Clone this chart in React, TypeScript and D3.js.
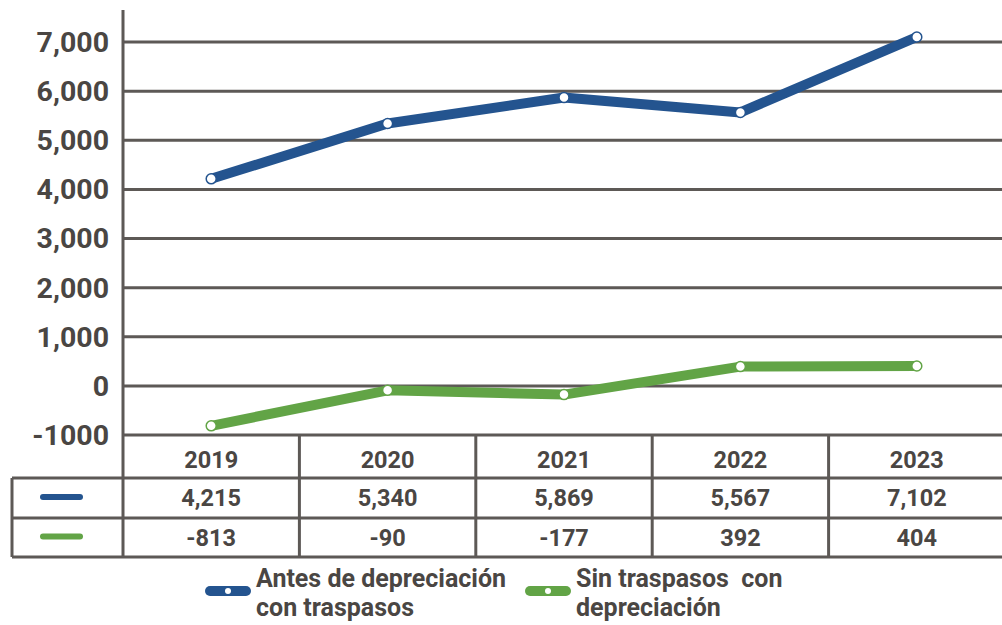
import React from "react";
import * as d3 from "d3";

const years = ["2019", "2020", "2021", "2022", "2023"];
const antes = [4215, 5340, 5869, 5567, 7102];
const sin = [-813, -90, -177, 392, 404];
const yTicks = [7000, 6000, 5000, 4000, 3000, 2000, 1000, 0, -1000];
const yTickLabels = ["7,000", "6,000", "5,000", "4,000", "3,000", "2,000", "1,000", "0", "-1000"];
const seriesNames = [
  ["Antes de depreciación", "con traspasos"],
  ["Sin traspasos\u00a0\u00a0con", "depreciación"],
];

const BLUE = "#24548f";
const GREEN = "#62a446";
const GRID = "#5d5956";
const TEXT = "#4a4643";
const FONT = "Roboto, sans-serif";

export default function App() {
  const W = 1002;
  const H = 625;
  const x = d3.scaleBand<string>().domain(years).range([123, 1005]);
  const y = d3.scaleLinear().domain([-1000, 7000]).range([435, 42]);
  const fmt = d3.format(",");

  const line = d3
    .line<number>()
    .x((_, i) => x(years[i])! + x.bandwidth() / 2)
    .y((d) => y(d));

  const rowTop = [435, 478, 518, 557];
  const series = [
    { vals: antes, color: BLUE },
    { vals: sin, color: GREEN },
  ];

  return (
    <svg
      width={W}
      height={H}
      style={{ position: "absolute", left: 0, top: 0, background: "#fff" }}
      fontFamily={FONT}
    >
      {/* gridlines */}
      {yTicks.map((t) => (
        <line key={t} x1={123} x2={W} y1={y(t)} y2={y(t)} stroke={GRID} strokeWidth={3} />
      ))}
      {yTicks.map((t, i) => (
        <text
          key={"l" + t}
          x={109}
          y={y(t)}
          dy="0.35em"
          textAnchor="end"
          fontSize={28.5}
          fontWeight={700}
          fill={TEXT}
        >
          {yTickLabels[i]}
        </text>
      ))}

      {/* table */}
      {rowTop.slice(1).map((r) => (
        <line key={"r" + r} x1={12} x2={W} y1={r} y2={r} stroke={GRID} strokeWidth={3} />
      ))}
      <line x1={12} x2={12} y1={478} y2={557} stroke={GRID} strokeWidth={3} />
      <line x1={123} x2={123} y1={10} y2={557} stroke={GRID} strokeWidth={3} />
      {years.slice(1).map((yr) => (
        <line key={"c" + yr} x1={x(yr)!} x2={x(yr)!} y1={435} y2={557} stroke={GRID} strokeWidth={3} />
      ))}
      {years.map((yr, i) => (
        <g key={"t" + yr} fontSize={23.5} fontWeight={700} fill={TEXT} textAnchor="middle">
          <text x={x(yr)! + x.bandwidth() / 2} y={(rowTop[0] + rowTop[1]) / 2 + 3} dy="0.36em">
            {yr}
          </text>
          <text x={x(yr)! + x.bandwidth() / 2} y={(rowTop[1] + rowTop[2]) / 2} dy="0.36em">
            {fmt(antes[i])}
          </text>
          <text x={x(yr)! + x.bandwidth() / 2} y={(rowTop[2] + rowTop[3]) / 2} dy="0.36em">
            {sin[i]}
          </text>
        </g>
      ))}
      {series.map((s, k) => (
        <line
          key={"sw" + k}
          x1={43}
          x2={80}
          y1={(rowTop[k + 1] + rowTop[k + 2]) / 2 - 1}
          y2={(rowTop[k + 1] + rowTop[k + 2]) / 2 - 1}
          stroke={s.color}
          strokeWidth={6}
          strokeLinecap="round"
        />
      ))}

      {/* lines */}
      {series.map((s, k) => (
        <g key={"s" + k}>
          <path d={line(s.vals)!} fill="none" stroke={s.color} strokeWidth={10} strokeLinejoin="round" />
          {s.vals.map((v, i) => (
            <circle
              key={i}
              cx={x(years[i])! + x.bandwidth() / 2}
              cy={y(v)}
              r={5}
              fill="#fff"
              stroke={s.color}
              strokeWidth={1.5}
            />
          ))}
        </g>
      ))}

      {/* legend */}
      {series.map((s, k) => {
        const lx = k === 0 ? 205 : 525;
        return (
          <g key={"lg" + k}>
            <line x1={lx + 5} x2={lx + 41} y1={591} y2={591} stroke={s.color} strokeWidth={10} strokeLinecap="round" />
            <circle cx={lx + 23} cy={591} r={3} fill="#fff" />
            <text x={lx + 51} y={587} fontSize={25} fontWeight={700} fill={TEXT}>
              {seriesNames[k][0]}
            </text>
            <text x={lx + 51} y={616} fontSize={25} fontWeight={700} fill={TEXT}>
              {seriesNames[k][1]}
            </text>
          </g>
        );
      })}
    </svg>
  );
}
